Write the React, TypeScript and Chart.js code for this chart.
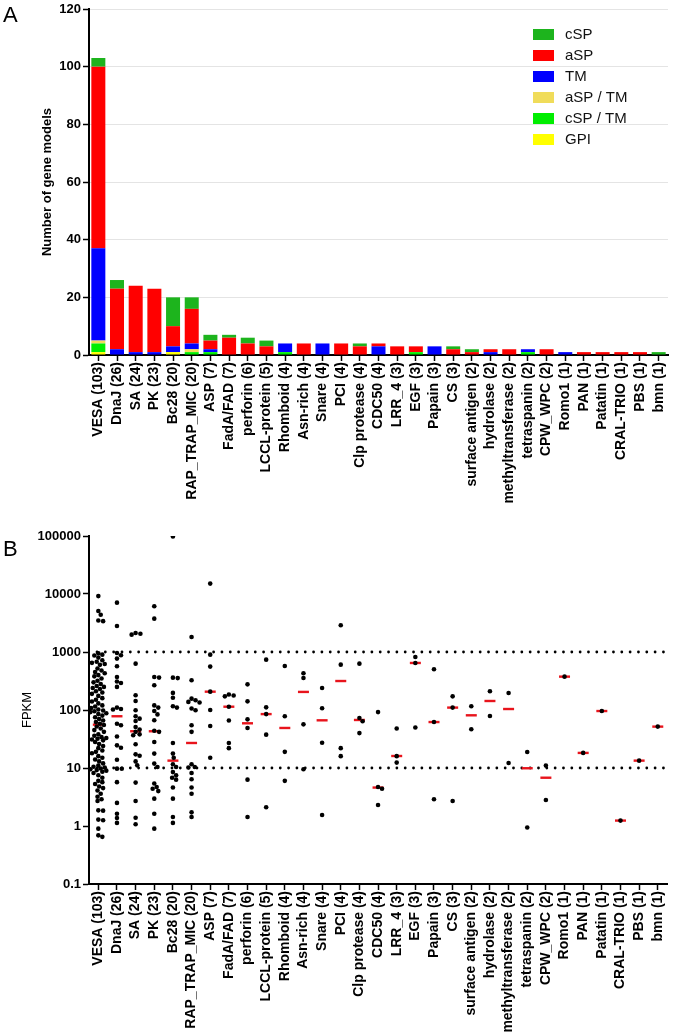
import React, { useEffect, useRef } from 'react';
import { Chart, registerables } from 'chart.js';

Chart.register(...registerables);

const FONT = '"Liberation Sans", Arial, Helvetica, sans-serif';

// ---------- Shared categories ----------
const categories = [
  'VESA (103)', 'DnaJ (26)', 'SA (24)', 'PK (23)', 'Bc28 (20)', 'RAP_TRAP_MIC (20)',
  'ASP (7)', 'FadA/FAD (7)', 'perforin (6)', 'LCCL-protein (5)', 'Rhomboid (4)',
  'Asn-rich (4)', 'Snare (4)', 'PCI (4)', 'Clp protease (4)', 'CDC50 (4)', 'LRR_4 (3)',
  'EGF (3)', 'Papain (3)', 'CS (3)', 'surface antigen (2)', 'hydrolase (2)',
  'methyltransferase (2)', 'tetraspanin (2)', 'CPW_WPC (2)', 'Romo1 (1)', 'PAN (1)',
  'Patatin (1)', 'CRAL-TRIO (1)', 'PBS (1)', 'bmn (1)',
];

// ---------- Panel A: stacked counts (bottom -> top) ----------
const gpi =   [1, 0, 0, 0, 1, 0, 0, 0, 0, 0, 0, 0, 0, 0, 0, 0, 0, 0, 0, 0, 0, 0, 0, 0, 0, 0, 0, 0, 0, 0, 0];
const cspTm = [3, 0, 0, 0, 0, 1, 1, 0, 0, 0, 1, 0, 0, 0, 0, 0, 0, 1, 0, 0, 0, 0, 0, 1, 0, 0, 0, 0, 0, 0, 0];
const aspTm = [1, 0, 0, 0, 0, 1, 0, 0, 0, 0, 0, 0, 0, 0, 0, 0, 0, 0, 0, 0, 0, 0, 0, 0, 0, 0, 0, 0, 0, 0, 0];
const tm =    [32, 2, 1, 1, 2, 2, 1, 0, 0, 0, 3, 0, 4, 0, 0, 3, 0, 0, 3, 0, 0, 1, 0, 1, 0, 1, 0, 0, 0, 0, 0];
const asp =   [63, 21, 23, 22, 7, 12, 3, 6, 4, 3, 0, 4, 0, 4, 3, 1, 3, 2, 0, 2, 1, 1, 2, 0, 2, 0, 1, 1, 1, 1, 0];
const csp =   [3, 3, 0, 0, 10, 4, 2, 1, 2, 2, 0, 0, 0, 0, 1, 0, 0, 0, 0, 1, 1, 0, 0, 0, 0, 0, 0, 0, 0, 0, 1];
const seriesLabels = ['GPI', 'cSP / TM', 'aSP / TM', 'TM', 'aSP', 'cSP'];
const seriesColors = ['#ffff00', '#00ee00', '#f0dc5a', '#0000ff', '#ff0000', '#1db41d'];
const countTicks = [0, 20, 40, 60, 80, 100, 120];

// ---------- Panel B: FPKM per gene model ----------
const vesaFpkm = [9200, 5100, 4400, 3500, 3400, 950, 900, 870, 800, 720, 680, 650, 620, 600, 520, 480, 450, 430, 400, 380, 350, 320, 300, 280, 260, 250, 240, 230, 210, 200, 190, 175, 160, 150, 140, 130, 120, 115, 108, 102, 98, 95, 92, 88, 85, 80, 75, 70, 66, 62, 58, 55, 52, 48, 45, 42, 38, 36, 34, 33, 32, 31, 30, 28, 26, 24, 22, 20, 19, 18, 16, 15, 14, 13, 12, 11, 10.5, 10.2, 9.8, 9.5, 9.2, 9.0, 8.6, 8.2, 7.5, 6.8, 6.0, 5.7, 5.3, 4.8, 4.5, 4.1, 3.6, 3.2, 2.9, 2.7, 1.86, 1.84, 1.29, 1.26, 0.9, 0.69, 0.65];
const dnajFpkm = [7100, 2810, 962, 877, 769, 567, 371, 310, 292, 250, 110, 104, 102, 58, 54.5, 35, 24.6, 22.4, 13.9, 9.75, 9.7, 5.7, 2.5, 1.63, 1.37, 1.13];
const saFpkm = [2130, 2060, 1990, 630, 180, 143, 99, 78, 71, 64.7, 51, 45.9, 42, 38, 36.6, 25.6, 17.2, 16.3, 13, 11.1, 5.6, 2.7, 1.39, 1.07];
const pkFpkm = [6140, 3760, 371, 362, 267, 120, 110, 96, 84, 66.5, 44, 42, 28, 17.7, 11.9, 10.4, 5.4, 4.7, 4.4, 4.0, 2.96, 1.63, 0.9];
const bc28Fpkm = [98000, 361, 355, 197, 163, 116, 110, 27, 17.7, 15, 11.6, 10.4, 8.5, 7.5, 6.8, 6.3, 4.6, 2.96, 1.43, 1.13];
const rapFpkm = [1815, 325, 157, 147, 138, 135, 106, 99, 54.5, 42, 11.6, 10.4, 10.2, 8.2, 6.4, 4.6, 3.6, 1.72, 1.43];
const aspFpkm = [15100, 900, 560, 207, 100, 53, 15];
const fadaFpkm = [185, 178, 172, 114, 66, 27, 22];
const perforinFpkm = [277, 141, 69, 49, 6.3, 1.43];
const lcclFpkm = [738, 111, 85, 37.6, 2.1];
const rhomboidFpkm = [574, 78, 19, 6];
const asnFpkm = [430, 356, 56.6, 9.5];
const snareFpkm = [240, 107, 27.3, 1.55];
const pciFpkm = [2890, 605, 22, 16];
const clpFpkm = [630, 73, 64, 40];
const cdc50Fpkm = [92, 4.7, 4.4, 2.3];
const lrrFpkm = [48, 16, 12.4];
const egfFpkm = [820, 647, 50];
const papainFpkm = [503, 62, 2.9];
const csFpkm = [172, 110, 2.7];
const surfaceFpkm = [116, 46.5];
const hydrolaseFpkm = [210, 79];
const methylFpkm = [196, 12.2];
const tetraspaninFpkm = [18.9, 0.94];
const cpwFpkm = [11, 2.8];
const romo1Fpkm = [376];
const panFpkm = [18.2];
const patatinFpkm = [96];
const cralFpkm = [1.24];
const pbsFpkm = [13.4];
const bmnFpkm = [51.7];

const medians = [55.9, 78, 43, 43, 13.4, 27, 207, 114, 59, 85, 49, 205, 66.4, 316, 67.3, 4.6, 16.1, 647, 62, 110, 81, 143, 104, 9.9, 6.8, 376, 18.2, 96, 1.24, 13.4, 51.7];
const fpkmTicks = [0.1, 1, 10, 100, 1000, 10000, 100000];
const refLines = [10, 1000];

const fpkmByCategory = [
  vesaFpkm, dnajFpkm, saFpkm, pkFpkm, bc28Fpkm, rapFpkm, aspFpkm, fadaFpkm, perforinFpkm,
  lcclFpkm, rhomboidFpkm, asnFpkm, snareFpkm, pciFpkm, clpFpkm, cdc50Fpkm, lrrFpkm, egfFpkm,
  papainFpkm, csFpkm, surfaceFpkm, hydrolaseFpkm, methylFpkm, tetraspaninFpkm, cpwFpkm,
  romo1Fpkm, panFpkm, patatinFpkm, cralFpkm, pbsFpkm, bmnFpkm,
];

// ---------- Layout helpers (non-data) ----------
const PX_PER_DECADE = 58;
const PX_PER_CAT = 579 / 31;
const DOT_D = 4.2;
const MAX_OFF = 8;

// Deterministic beeswarm: spreads overlapping dots sideways within a column
function swarm(values: number[], catIndex: number) {
  const placed: { x: number; y: number }[] = [];
  const sorted = [...values].sort((a, b) => b - a);
  const candidates: number[] = [0];
  for (let k = 1; k * 0.8 <= MAX_OFF; k++) candidates.push(k * 0.8, -k * 0.8);
  return sorted.map((v) => {
    const py = Math.log10(v) * PX_PER_DECADE;
    let chosen = 0;
    let bestGap = -1;
    for (const off of candidates) {
      const gap = placed.reduce((m, p) => Math.min(m, Math.hypot(p.x - off, p.y - py)), Infinity);
      if (gap >= DOT_D) { chosen = off; bestGap = gap; break; }
      if (gap > bestGap + 0.01) { bestGap = gap; chosen = off; }
    }
    placed.push({ x: chosen, y: py });
    return { x: catIndex + chosen / PX_PER_CAT, y: v };
  });
}

const sideLegend = {
  id: 'sideLegend',
  afterDraw(chart: any) {
    const { ctx, chartArea } = chart;
    const ds = chart.data.datasets;
    ctx.save();
    ctx.font = `15px ${FONT}`;
    ctx.textBaseline = 'middle';
    ctx.textAlign = 'left';
    const n = ds.length;
    for (let r = 0; r < n; r++) {
      const d = ds[n - 1 - r];
      const top = chartArea.top + 20 + r * 21;
      ctx.fillStyle = d.backgroundColor;
      ctx.fillRect(chartArea.right - 135, top, 21, 11);
      ctx.fillStyle = '#111';
      ctx.fillText(d.label, chartArea.right - 103, top + 6);
    }
    ctx.restore();
  },
};

const dottedRefLines = {
  id: 'dottedRefLines',
  beforeDatasetsDraw(chart: any) {
    const { ctx, chartArea, scales } = chart;
    ctx.save();
    ctx.strokeStyle = '#000';
    ctx.lineWidth = 2.8;
    ctx.lineCap = 'round';
    ctx.setLineDash([0, 8.33]);
    refLines.forEach((v) => {
      const py = scales.y.getPixelForValue(v);
      ctx.beginPath();
      ctx.moveTo(chartArea.left + 8, py);
      ctx.lineTo(chartArea.right, py);
      ctx.stroke();
    });
    ctx.restore();
  },
};

const tickFont = { family: FONT, size: 13, weight: 'bold' as const };
const catFont = { family: FONT, size: 14, weight: 'bold' as const };

export default function App() {
  const refA = useRef<HTMLCanvasElement>(null);
  const refB = useRef<HTMLCanvasElement>(null);

  useEffect(() => {
    const seriesData = [gpi, cspTm, aspTm, tm, asp, csp];
    const chartA = new Chart(refA.current!, {
      type: 'bar',
      data: {
        labels: categories,
        datasets: seriesLabels.map((label, i) => ({
          label,
          data: seriesData[i],
          backgroundColor: seriesColors[i],
          borderWidth: 0,
          categoryPercentage: 1,
          barPercentage: 0.75,
        })),
      },
      options: {
        responsive: false,
        animation: false,
        devicePixelRatio: 1,
        layout: { padding: { left: 0, right: 7, top: 9, bottom: 0 } },
        plugins: { legend: { display: false }, tooltip: { enabled: false } },
        scales: {
          x: {
            stacked: true,
            border: { color: '#000', width: 2 },
            grid: { offset: false, drawOnChartArea: false, drawTicks: true, tickLength: 6, tickColor: '#000', tickWidth: 1.5 },
            ticks: { autoSkip: false, minRotation: 90, maxRotation: 90, padding: 1, color: '#000', font: catFont },
            afterFit: (s: any) => { s.height = 165; s.paddingLeft = 0; s.paddingRight = 0; },
          },
          y: {
            stacked: true,
            min: 0,
            max: 120,
            border: { color: '#000', width: 2 },
            grid: { color: '#e4e4e4', lineWidth: 1, drawTicks: true, tickLength: 6, tickColor: '#000', tickWidth: 1.5 },
            ticks: { stepSize: 20, padding: 2, color: '#000', font: tickFont },
            afterBuildTicks: (s: any) => { s.ticks = countTicks.map((v) => ({ value: v })); },
            title: {
              display: true,
              text: 'Number of gene models',
              color: '#000',
              font: { family: FONT, size: 13, weight: 'bold' },
              padding: { top: 40, bottom: 0 },
            },
            afterFit: (s: any) => { s.width = 89; s.paddingTop = 0; s.paddingBottom = 0; },
          },
        },
      } as any,
      plugins: [sideLegend],
    });

    const dots = fpkmByCategory.flatMap((vals, i) => swarm(vals, i));
    const medianPts = medians.map((m, i) => ({ x: i, y: m }));

    const chartB = new Chart(refB.current!, {
      type: 'scatter',
      data: {
        datasets: [
          {
            label: 'FPKM',
            data: dots,
            pointStyle: 'circle',
            pointRadius: 2.3,
            pointBackgroundColor: '#000',
            pointBorderColor: '#000',
            pointBorderWidth: 0,
          },
          {
            label: 'Median',
            data: medianPts,
            pointStyle: 'line',
            pointRadius: 5.5,
            pointBorderColor: '#e8141c',
            pointBackgroundColor: '#e8141c',
            pointBorderWidth: 2.4,
          },
        ],
      },
      options: {
        responsive: false,
        animation: false,
        devicePixelRatio: 1,
        layout: { padding: { left: 0, right: 7, top: 16, bottom: 0 } },
        plugins: { legend: { display: false }, tooltip: { enabled: false } },
        scales: {
          x: {
            type: 'linear',
            min: -0.5,
            max: categories.length - 0.5,
            border: { color: '#000', width: 2 },
            grid: { drawOnChartArea: false, drawTicks: true, tickLength: 6, tickColor: '#000', tickWidth: 1.5 },
            ticks: {
              autoSkip: false, minRotation: 90, maxRotation: 90, padding: 1, color: '#000', font: catFont,
              callback: (v: any) => categories[v],
            },
            afterBuildTicks: (s: any) => { s.ticks = categories.map((_, i) => ({ value: i })); },
            afterFit: (s: any) => { s.height = 150; s.paddingLeft = 0; s.paddingRight = 0; },
          },
          y: {
            type: 'logarithmic',
            min: 0.1,
            max: 100000,
            border: { color: '#000', width: 2 },
            grid: { drawOnChartArea: false, drawTicks: true, tickLength: 6, tickColor: '#000', tickWidth: 1.5 },
            ticks: { padding: 2, color: '#000', font: tickFont, callback: (v: any) => String(v) },
            afterBuildTicks: (s: any) => { s.ticks = fpkmTicks.map((v) => ({ value: v, major: true })); },
            title: {
              display: true,
              text: 'FPKM',
              color: '#000',
              font: { family: FONT, size: 13, weight: 'normal' },
              padding: { top: 20, bottom: 0 },
            },
            afterFit: (s: any) => { s.width = 89; s.paddingTop = 0; s.paddingBottom = 0; },
          },
        },
      } as any,
      plugins: [dottedRefLines],
    });

    return () => {
      chartA.destroy();
      chartB.destroy();
    };
  }, []);

  const letter: React.CSSProperties = {
    position: 'absolute',
    left: 3,
    fontFamily: FONT,
    fontSize: 22,
    lineHeight: '22px',
    color: '#000',
  };

  return (
    <div style={{ position: 'absolute', left: 0, top: 0, width: 675, height: 1034, background: '#fff', overflow: 'hidden' }}>
      <canvas ref={refA} width={675} height={520} style={{ position: 'absolute', left: 0, top: 0 }} />
      <canvas ref={refB} width={675} height={514} style={{ position: 'absolute', left: 0, top: 520 }} />
      <div style={{ ...letter, top: 4 }}>A</div>
      <div style={{ ...letter, top: 538 }}>B</div>
    </div>
  );
}
